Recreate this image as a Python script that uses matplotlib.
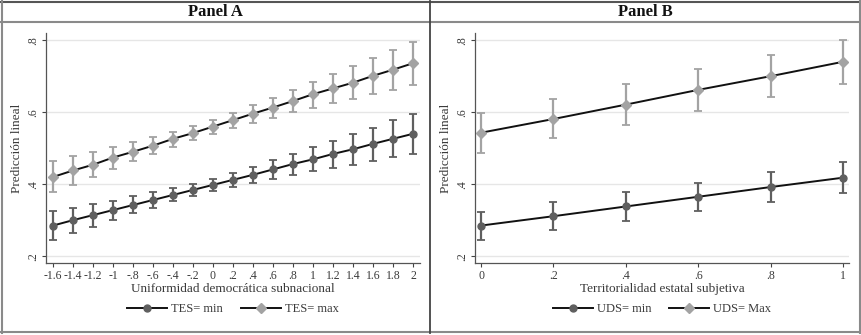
import matplotlib
matplotlib.use("Agg")
import matplotlib.pyplot as plt
from matplotlib.lines import Line2D
import numpy as np

# ---------------- data ----------------
panel_a_x = [-1.6, -1.4, -1.2, -1.0, -0.8, -0.6, -0.4, -0.2, 0.0, 0.2, 0.4, 0.6, 0.8, 1.0, 1.2, 1.4, 1.6, 1.8, 2.0]
panel_a_xlabels = ["-1.6", "-1.4", "-1.2", "-1", "-.8", "-.6", "-.4", "-.2", "0", ".2", ".4", ".6", ".8",
                   "1", "1.2", "1.4", "1.6", "1.8", "2"]
tes_min = [0.285, 0.300, 0.314, 0.328, 0.342, 0.356, 0.370, 0.384, 0.398, 0.412, 0.426, 0.441, 0.456,
           0.469, 0.484, 0.497, 0.512, 0.526, 0.540]
tes_min_lo = [0.245, 0.265, 0.282, 0.301, 0.319, 0.335, 0.352, 0.368, 0.381, 0.392, 0.404, 0.415, 0.425,
              0.436, 0.445, 0.454, 0.465, 0.475, 0.484]
tes_min_hi = [0.325, 0.335, 0.345, 0.354, 0.366, 0.377, 0.388, 0.401, 0.415, 0.432, 0.449, 0.466, 0.484,
              0.503, 0.521, 0.540, 0.557, 0.577, 0.595]
tes_max = [0.420, 0.438, 0.454, 0.474, 0.490, 0.507, 0.526, 0.542, 0.560, 0.578, 0.596, 0.613, 0.631,
           0.650, 0.666, 0.682, 0.701, 0.718, 0.736]
tes_max_lo = [0.377, 0.399, 0.421, 0.443, 0.465, 0.483, 0.504, 0.523, 0.540, 0.556, 0.571, 0.584, 0.600,
              0.612, 0.626, 0.637, 0.651, 0.662, 0.676]
tes_max_hi = [0.463, 0.477, 0.489, 0.503, 0.516, 0.530, 0.546, 0.562, 0.579, 0.599, 0.619, 0.640, 0.662,
              0.684, 0.706, 0.729, 0.750, 0.773, 0.795]

panel_b_x = [0.0, 0.2, 0.4, 0.6, 0.8, 1.0]
panel_b_xlabels = ["0", ".2", ".4", ".6", ".8", "1"]
uds_min = [0.285, 0.311, 0.338, 0.365, 0.392, 0.418]
uds_min_lo = [0.245, 0.273, 0.299, 0.326, 0.350, 0.375]
uds_min_hi = [0.324, 0.350, 0.377, 0.404, 0.433, 0.461]
uds_max = [0.543, 0.581, 0.621, 0.662, 0.700, 0.740]
uds_max_lo = [0.486, 0.527, 0.565, 0.604, 0.641, 0.677]
uds_max_hi = [0.599, 0.638, 0.678, 0.719, 0.760, 0.801]

y_ticks = [0.2, 0.4, 0.6, 0.8]
y_ticklabels = [".2", ".4", ".6", ".8"]

# ---------------- style ----------------
plt.rcParams['font.family'] = ['Liberation Serif', 'DejaVu Serif']
W, H = 861, 335
fig = plt.figure(figsize=(W / 100, H / 100), dpi=100)

C_DARK = "#5f5f5f"
C_LIGHT = "#a3a3a3"
TXT = "#3a3a3a"


def fx(px):
    return px / W


def fy(py):
    return 1 - py / H


def draw_panel(ax, x, s1, lo1, hi1, s2, lo2, hi2, xlabels, xlim, xlabel, leg_labels):
    ax.set_xlim(*xlim)
    ax.set_ylim(0.181, 0.820)
    for yt in y_ticks:
        ax.axhline(yt, color="#e6e6e6", lw=1.0, zorder=0)
    for s, lo, hi, col, mk, ms in [(s1, lo1, hi1, C_DARK, 'o', 5.0), (s2, lo2, hi2, C_LIGHT, 'D', 4.6)]:
        s = np.array(s); lo = np.array(lo); hi = np.array(hi)
        ax.errorbar(x, s, yerr=[s - lo, hi - s], fmt='none', ecolor=col, elinewidth=1.6,
                    capsize=2.6, capthick=1.3, zorder=2)
        ax.plot(x, s, color="#111111", lw=1.4, zorder=3)
        ax.plot(x, s, ls='none', marker=mk, ms=ms, color=col, mec=col, zorder=4)
    ax.set_xticks(x)
    ax.set_xticklabels(xlabels)
    ax.set_yticks(y_ticks)
    ax.set_yticklabels(y_ticklabels, rotation=90, va='center')
    ax.tick_params(axis='both', labelsize=8.5, colors="#444444", labelcolor=TXT, length=3, width=0.8, pad=2)
    for sp in ['top', 'right']:
        ax.spines[sp].set_visible(False)
    for sp in ['left', 'bottom']:
        ax.spines[sp].set_color("#555555")
        ax.spines[sp].set_linewidth(0.9)
    ax.set_xlabel(xlabel, fontsize=9.5, color=TXT, labelpad=1)
    ax.set_ylabel("Predicción lineal", fontsize=9.5, color=TXT, labelpad=3)
    handles = [Line2D([0], [0], color="#111111", lw=1.4, marker='o', ms=5.0, mfc=C_DARK, mec=C_DARK),
               Line2D([0], [0], color="#111111", lw=1.4, marker='D', ms=4.6, mfc=C_LIGHT, mec=C_LIGHT)]
    ax.legend(handles, leg_labels, loc='center', bbox_to_anchor=(0.5, -0.2), ncol=2, frameon=False,
              fontsize=9, handlelength=3.2, columnspacing=1.4, handletextpad=0.35,
              labelcolor=TXT)


axA = fig.add_axes([fx(46), fy(263), fx(374), 230 / H])
draw_panel(axA, panel_a_x, tes_min, tes_min_lo, tes_min_hi, tes_max, tes_max_lo, tes_max_hi,
           panel_a_xlabels, (-1.67, 2.07), "Uniformidad democrática subnacional",
           ["TES= min", "TES= max"])

axB = fig.add_axes([fx(475), fy(263), fx(374), 230 / H])
draw_panel(axB, panel_b_x, uds_min, uds_min_lo, uds_min_hi, uds_max, uds_max_lo, uds_max_hi,
           panel_b_xlabels, (-0.0166, 1.0166), "Territorialidad estatal subjetiva",
           ["UDS= min", "UDS= Max"])

# ---------------- frame / table borders ----------------
def hline(y, x0, x1, color, lw):
    fig.add_artist(Line2D([fx(x0), fx(x1)], [fy(y), fy(y)], color=color, lw=lw))


def vline(x, y0, y1, color, lw):
    fig.add_artist(Line2D([fx(x), fx(x)], [fy(y0), fy(y1)], color=color, lw=lw))


hline(1.5, 1, 860, "#555555", 1.5)
hline(22, 1, 860, "#8a8a8a", 1.5)
hline(332, 1, 860, "#8a8a8a", 1.5)
vline(1.5, 1, 333, "#8a8a8a", 1.5)
vline(859.5, 1, 333, "#8a8a8a", 1.5)
vline(430, 1, 333, "#444444", 1.3)

fig.text(fx(215), fy(12), "Panel A", ha='center', va='center', fontsize=12, fontweight='bold', color="#111111")
fig.text(fx(645), fy(12), "Panel B", ha='center', va='center', fontsize=12, fontweight='bold', color="#111111")

fig.savefig("out.png", dpi=100)
